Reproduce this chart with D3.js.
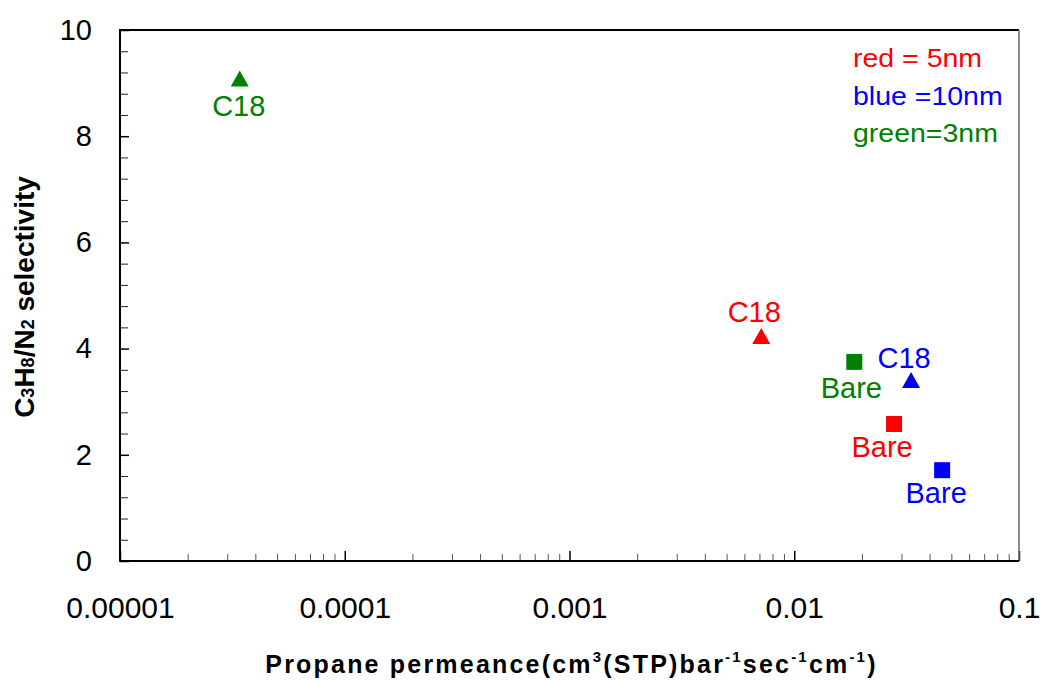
<!DOCTYPE html>
<html>
<head>
<meta charset="utf-8">
<title>Propane permeance vs selectivity</title>
<script src="https://cdn.jsdelivr.net/npm/d3@7"></script>
<style>
	body { margin: 0; background: #fff; }
	text { font-family: "Liberation Sans", Arial, sans-serif; }
</style>
</head>
<body>
<div id="chart"></div>
<script>

	// data
	var permeance   = [3.41e-5, 0.00713, 0.0331, 0.0185, 0.0278, 0.0455];
	var selectivity = [9.07, 4.22, 3.39, 3.75, 2.58, 1.71];
	var poreSize    = ["3nm", "5nm", "10nm", "3nm", "5nm", "10nm"];
	var membrane    = ["C18", "C18", "C18", "Bare", "Bare", "Bare"];

	var xTickValues = [1e-5, 1e-4, 1e-3, 1e-2, 1e-1];
	var xTickLabels = ["0.00001", "0.0001", "0.001", "0.01", "0.1"];
	var yTickValues = [0, 2, 4, 6, 8, 10];
	var legendLines = ["red = 5nm", "blue =10nm", "green=3nm"];
	var legendSizes = ["5nm", "10nm", "3nm"];

	// label nudges (layout only)
	var labelNudge = [[-1, 37], [-7, -15], [-7, -13], [-3, 36], [-12, 33], [-6, 33]];

	var W = 1041, H = 681;
	var pL = 120, pR = 1019, pT = 30, pB = 561;

	var svg = d3.select("#chart").append("svg")
		.attr("width", W)
		.attr("height", H);

	var x = d3.scaleLog().domain([1e-5, 0.1]).range([pL, pR]);
	var y = d3.scaleLinear().domain([0, 10]).range([pB, pT]);
	var colour = d3.scaleOrdinal().domain(["5nm", "10nm", "3nm"]).range(["#ff0000", "#0000ff", "#008000"]);

	// minor ticks
	var xMinor = [];
	xTickValues.slice(0, -1).forEach(function(d) {
		for (var k = 2; k < 10; k++) xMinor.push(d * k);
	});
	var yMinor = d3.range(0, 10.01, 0.4).filter(function(v) {
		return Math.abs(v / 2 - Math.round(v / 2)) > 0.01;
	});

	svg.append("g")
		.attr("transform", "translate(0," + pB + ")")
		.call(d3.axisBottom(x).tickValues(xMinor).tickFormat("").tickSizeInner(-7).tickSizeOuter(0))
		.call(function(g) { g.select(".domain").remove(); g.selectAll("line").attr("stroke", "#555"); });

	svg.append("g")
		.attr("transform", "translate(" + pL + ",0)")
		.call(d3.axisLeft(y).tickValues(yMinor).tickFormat("").tickSizeInner(-8).tickSizeOuter(0))
		.call(function(g) { g.select(".domain").remove(); g.selectAll("line").attr("stroke", "#222"); });

	// major ticks + labels
	svg.append("g")
		.attr("transform", "translate(0," + pB + ")")
		.call(d3.axisBottom(x).tickValues(xTickValues)
			.tickFormat(function(d, i) { return xTickLabels[i]; })
			.tickSizeInner(-10).tickSizeOuter(0).tickPadding(36))
		.call(function(g) {
			g.select(".domain").remove();
			g.selectAll("line").attr("stroke", "#000").attr("stroke-width", 1.5);
			g.selectAll("text").attr("font-size", "30px").attr("fill", "#000")
				.attr("font-family", "Liberation Sans, Arial, sans-serif");
		});

	svg.append("g")
		.attr("transform", "translate(" + pL + ",0)")
		.call(d3.axisLeft(y).tickValues(yTickValues).tickSizeInner(-9).tickSizeOuter(0).tickPadding(28))
		.call(function(g) {
			g.select(".domain").remove();
			g.selectAll("line").attr("stroke", "#000").attr("stroke-width", 1.5);
			g.selectAll("text").attr("font-size", "29px").attr("fill", "#000")
				.attr("font-family", "Liberation Sans, Arial, sans-serif");
		});

	// frame
	svg.append("line").attr("x1", pL).attr("x2", pR).attr("y1", pT).attr("y2", pT)
		.attr("stroke", "#000").attr("stroke-width", 2);
	svg.append("line").attr("x1", pR).attr("x2", pR).attr("y1", pT).attr("y2", pB)
		.attr("stroke", "#666").attr("stroke-width", 1.5);
	svg.append("line").attr("x1", pL).attr("x2", pL).attr("y1", pT - 1).attr("y2", pB + 1)
		.attr("stroke", "#000").attr("stroke-width", 2);
	svg.append("line").attr("x1", pL).attr("x2", pR).attr("y1", pB).attr("y2", pB)
		.attr("stroke", "#000").attr("stroke-width", 2);

	// points
	var pts = d3.range(permeance.length);

	svg.selectAll(".pt")
		.data(pts)
		.enter()
		.append("path")
		.attr("class", "pt")
		.attr("transform", function(i) { return "translate(" + x(permeance[i]) + "," + y(selectivity[i]) + ")"; })
		.attr("d", function(i) {
			if (membrane[i] == "C18") return "M0,-9L9,7L-9,7Z";
			return "M-8,-8H8V8H-8Z";
		})
		.attr("fill", function(i) { return colour(poreSize[i]); });

	svg.selectAll(".lbl")
		.data(pts)
		.enter()
		.append("text")
		.attr("class", "lbl")
		.attr("x", function(i) { return x(permeance[i]) + labelNudge[i][0]; })
		.attr("y", function(i) { return y(selectivity[i]) + labelNudge[i][1]; })
		.attr("text-anchor", "middle")
		.attr("font-size", "29px")
		.attr("fill", function(i) { return colour(poreSize[i]); })
		.text(function(i) { return membrane[i]; });

	// legend text
	svg.selectAll(".leg")
		.data(legendLines)
		.enter()
		.append("text")
		.attr("class", "leg")
		.attr("transform", function(d, i) { return "translate(853," + (67 + i * 37.5) + ") scale(1.14,1)"; })
		.attr("font-size", "25px")
		.attr("fill", function(d, i) { return colour(legendSizes[i]); })
		.text(function(d) { return d; });

	// x title
	var xt = svg.append("text")
		.attr("x", (pL + pR) / 2 + 2)
		.attr("y", 673)
		.attr("text-anchor", "middle")
		.attr("font-size", "25px")
		.attr("font-weight", "bold")
		.attr("letter-spacing", "2.2px");
	xt.append("tspan").text("Propane permeance(cm");
	xt.append("tspan").attr("font-size", "15px").attr("dy", -11).text("3");
	xt.append("tspan").attr("dy", 11).text("(STP)bar");
	xt.append("tspan").attr("font-size", "15px").attr("dy", -11).text("-1");
	xt.append("tspan").attr("dy", 11).text("sec");
	xt.append("tspan").attr("font-size", "15px").attr("dy", -11).text("-1");
	xt.append("tspan").attr("dy", 11).text("cm");
	xt.append("tspan").attr("font-size", "15px").attr("dy", -11).text("-1");
	xt.append("tspan").attr("dy", 11).text(")");

	// y title
	var yt = svg.append("text")
		.attr("transform", "translate(34,297) rotate(-90)")
		.attr("text-anchor", "middle")
		.attr("font-size", "28px")
		.attr("font-weight", "bold");
	yt.append("tspan").text("C");
	yt.append("tspan").attr("font-size", "18px").text("3");
	yt.append("tspan").text("H");
	yt.append("tspan").attr("font-size", "18px").text("8");
	yt.append("tspan").text("/N");
	yt.append("tspan").attr("font-size", "18px").text("2");
	yt.append("tspan").text(" selectivity");

</script>
</body>
</html>
